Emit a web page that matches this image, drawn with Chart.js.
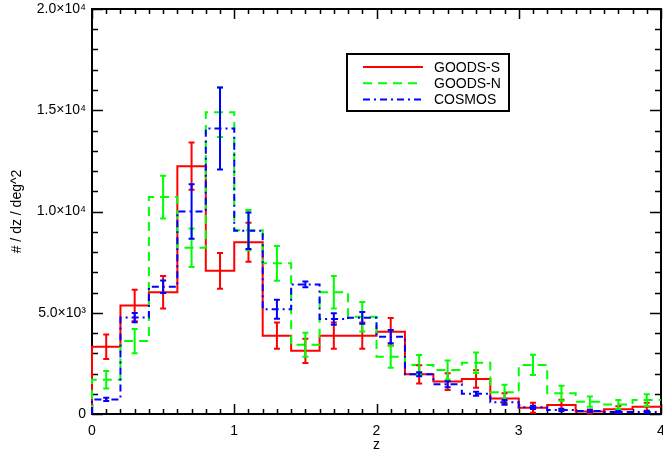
<!DOCTYPE html>
<html lang="en">
<head>
  <meta charset="UTF-8">
  <title>Redshift distribution per field</title>
  <script src="https://cdn.jsdelivr.net/npm/chart.js@4"></script>
  <style>
    html, body { margin: 0; padding: 0; background: #fff; }
    canvas { display: block; }
  </style>
</head>
<body>
  <canvas id="nz" width="663" height="454"></canvas>

  <script>
    // bin edges in z (0.2 wide bins)
    const binEdges = [0, 0.2, 0.4, 0.6, 0.8, 1.0, 1.2, 1.4, 1.6, 1.8, 2.0,
                      2.2, 2.4, 2.6, 2.8, 3.0, 3.2, 3.4, 3.6, 3.8, 4.0];

    // counts per dz per deg^2, one value per bin, with 1-sigma errors
    const goodsS    = [3320, 5360, 6010, 12240, 7070, 8480, 3870, 3120, 3870, 3870,
                       4060, 1960, 1600, 1730, 770, 310, 450, 120, 230, 360];
    const goodsSErr = [610, 780, 800, 1170, 880, 960, 650, 600, 650, 650,
                       680, 450, 410, 430, 260, 250, 250, 100, 150, 200];

    const goodsN    = [1690, 3600, 10710, 8210, 14900, 9080, 7440, 3420, 6010, 4800,
                       2830, 2420, 2170, 2530, 1080, 2420, 1020, 610, 470, 690];
    const goodsNErr = [435, 600, 1050, 950, 1220, 990, 860, 590, 800, 725,
                       540, 490, 470, 510, 370, 500, 370, 250, 220, 290];

    const cosmos    = [720, 4760, 6280, 10000, 14100, 9050, 5170, 6400, 4690, 4750,
                       3820, 1960, 1470, 1000, 575, 330, 200, 150, 100, 100];
    const cosmosErr = [80, 230, 310, 1340, 2020, 900, 470, 140, 280, 290,
                       330, 100, 150, 100, 120, 80, 60, 50, 50, 50];

    const seriesNames = ['GOODS-S', 'GOODS-N', 'COSMOS'];

    const xTickLabels = ['0', '1', '2', '3', '4'];
    const yTickLabels = ['0', '5.0×10³', '1.0×10⁴', '1.5×10⁴', '2.0×10⁴'];

    const FONT = 'Liberation Sans, Arial, Helvetica, sans-serif';

    // histogram outline: rise at the first edge, then one flat step per bin
    function steps(values) {
      const pts = [{ x: binEdges[0], y: 0 }];
      values.forEach((v, i) => pts.push({ x: binEdges[i], y: v }));
      pts.push({ x: binEdges[binEdges.length - 1], y: values[values.length - 1] });
      return pts;
    }

    const centers = binEdges.slice(0, -1).map((e, i) => (e + binEdges[i + 1]) / 2);

    function histo(label, values, errors, color, dash, order) {
      return {
        label,
        data: steps(values),
        values,
        errors,
        borderColor: color,
        backgroundColor: color,
        borderWidth: 2,
        borderDash: dash,
        stepped: 'before',
        pointRadius: 0,
        fill: false,
        clip: 4,
        order
      };
    }

    // box and inward ticks on all four sides, drawn under the histograms
    const frame = {
      id: 'frame',
      beforeDatasetsDraw(chart) {
        const { ctx, chartArea: a, scales: { x, y } } = chart;
        ctx.save();
        ctx.strokeStyle = '#000';
        ctx.lineWidth = 1.5;
        ctx.beginPath();
        for (let k = 0; k <= 40; k++) {
          const px = Math.round(x.getPixelForValue(k / 10)) + 0.5;
          const len = k % 10 === 0 ? 10 : 5;
          ctx.moveTo(px, a.bottom); ctx.lineTo(px, a.bottom - len);
          ctx.moveTo(px, a.top); ctx.lineTo(px, a.top + len);
        }
        for (let k = 0; k <= 20; k++) {
          const py = Math.round(y.getPixelForValue(k * 1000)) + 0.5;
          const len = k % 5 === 0 ? 11 : 6;
          ctx.moveTo(a.left, py); ctx.lineTo(a.left + len, py);
          ctx.moveTo(a.right, py); ctx.lineTo(a.right - len, py);
        }
        ctx.stroke();
        ctx.lineWidth = 2;
        ctx.strokeRect(a.left, a.top, a.right - a.left, a.bottom - a.top);
        ctx.restore();
      }
    };

    // error bars at bin centres plus the legend box
    const extras = {
      id: 'extras',
      afterDatasetsDraw(chart) {
        const { ctx, chartArea: a, scales: { x, y } } = chart;
        const sets = chart.data.datasets;
        ctx.save();
        ctx.lineWidth = 2;
        ctx.setLineDash([]);
        sets.forEach(ds => {
          ctx.strokeStyle = ds.borderColor;
          ctx.beginPath();
          ds.values.forEach((v, i) => {
            const px = x.getPixelForValue(centers[i]);
            const lo = y.getPixelForValue(Math.max(v - ds.errors[i], 0));
            const hi = y.getPixelForValue(v + ds.errors[i]);
            ctx.moveTo(px, lo); ctx.lineTo(px, hi);
            ctx.moveTo(px - 3, lo); ctx.lineTo(px + 3, lo);
            ctx.moveTo(px - 3, hi); ctx.lineTo(px + 3, hi);
          });
          ctx.stroke();
        });

        const bx = a.left + 255, by = a.top + 45, bw = 162, bh = 57;
        ctx.fillStyle = '#fff';
        ctx.fillRect(bx, by, bw, bh);
        ctx.strokeStyle = '#000';
        ctx.strokeRect(bx, by, bw, bh);
        ctx.font = '14px ' + FONT;
        ctx.textBaseline = 'middle';
        sets.forEach((ds, i) => {
          const ly = by + 13 + i * 16.3;
          ctx.strokeStyle = ds.borderColor;
          ctx.setLineDash(ds.borderDash);
          ctx.beginPath();
          ctx.moveTo(bx + 16, ly); ctx.lineTo(bx + 76, ly);
          ctx.stroke();
          ctx.fillStyle = '#000';
          ctx.fillText(ds.label, bx + 87, ly + 1);
        });
        ctx.restore();
      }
    };

    new Chart(document.getElementById('nz'), {
      type: 'line',
      data: {
        datasets: [
          histo(seriesNames[0], goodsS, goodsSErr, '#ff0000', [], 3),
          histo(seriesNames[1], goodsN, goodsNErr, '#00ff00', [9, 6], 2),
          histo(seriesNames[2], cosmos, cosmosErr, '#0000ff', [7, 4, 2, 4], 1)
        ]
      },
      options: {
        responsive: false,
        animation: false,
        devicePixelRatio: 1,
        layout: { padding: { top: 9, right: 2, left: 0, bottom: 0 } },
        plugins: { legend: { display: false }, tooltip: { enabled: false } },
        scales: {
          x: {
            type: 'linear', min: 0, max: 4,
            grid: { display: false, drawTicks: false },
            border: { display: false },
            ticks: {
              stepSize: 1, padding: 9, maxRotation: 0, color: '#000',
              font: { family: FONT, size: 14 },
              callback: (v, i) => xTickLabels[i]
            },
            title: {
              display: true, text: 'z', color: '#000',
              font: { family: FONT, size: 14 }, padding: { top: 0, bottom: 0 }
            },
            afterFit: s => {
              s.height = 40;
              s.paddingLeft = 0;
              s.paddingRight = 0;
            }
          },
          y: {
            type: 'linear', min: 0, max: 20000,
            grid: { display: false, drawTicks: false },
            border: { display: false },
            ticks: {
              stepSize: 5000, padding: 6, color: '#000',
              font: { family: FONT, size: 14 },
              callback: (v, i) => yTickLabels[i]
            },
            title: {
              display: true, text: '# / dz / deg^2', color: '#000',
              font: { family: FONT, size: 14 }, padding: { top: 9, bottom: 0 }
            },
            afterFit: s => {
              s.width = 92;
              s.paddingTop = 0;
              s.paddingBottom = 0;
            }
          }
        }
      },
      plugins: [frame, extras]
    });
  </script>
</body>
</html>
